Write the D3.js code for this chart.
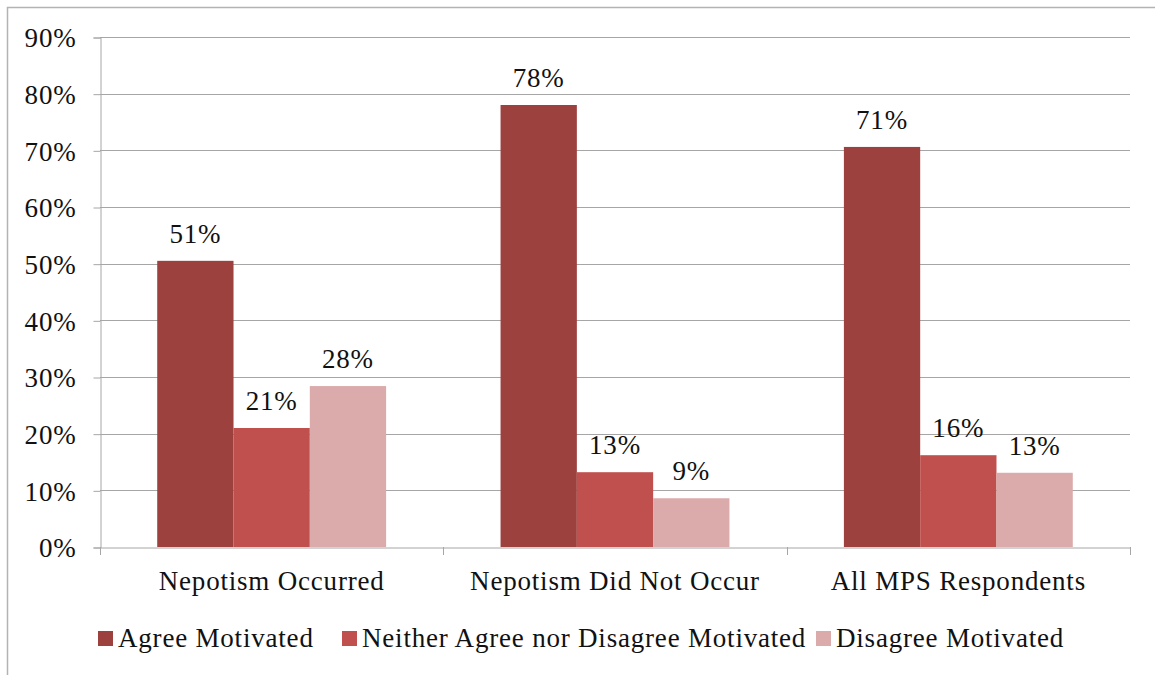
<!DOCTYPE html>
<html lang="en">
<head>
<meta charset="UTF-8">
<title>Motivation by nepotism experience</title>
<script src="https://cdn.jsdelivr.net/npm/d3@7"></script>
<style>
  body { margin: 0; background: #fff; }
  svg text { font-family: "Liberation Serif", "DejaVu Serif", serif; fill: #111; letter-spacing: 0.8px; }
</style>
</head>
<body>
<script>
var categories = ["Nepotism Occurred", "Nepotism Did Not Occur", "All MPS Respondents"];
var seriesNames = ["Agree Motivated", "Neither Agree nor Disagree Motivated", "Disagree Motivated"];
var agree = [50.5, 78, 70.6];
var neither = [21, 13.2, 16.2];
var disagree = [28.4, 8.6, 13.1];
var yTicks = [0, 10, 20, 30, 40, 50, 60, 70, 80, 90];
var colors = ["#9d413f", "#c0504d", "#dbaaaa"];

var w = 1155, h = 675,
    plotLeft = 100, plotRight = 1130, plotTop = 37, plotBottom = 547,
    fontSize = "27px";

var svg = d3.select("body").append("svg")
    .attr("width", w)
    .attr("height", h);

// outer frame (left + top edge of the chart box)
svg.append("path")
    .attr("d", "M7.5," + h + "V7.5H" + w)
    .attr("fill", "none")
    .attr("stroke", "#b3b3b3")
    .attr("stroke-width", 1.5);

var x0 = d3.scaleBand().domain(categories).range([plotLeft, plotRight]);
// gap width 150% -> outer padding of 0.75 bar on each side
var x1 = d3.scaleBand().domain(seriesNames).range([0, x0.bandwidth()]).paddingOuter(0.75);
var y = d3.scaleLinear().domain([0, 90]).range([plotBottom, plotTop]);

// gridlines
svg.append("g")
    .selectAll("line")
    .data(yTicks.slice(1))
    .enter()
    .append("line")
    .attr("x1", plotLeft)
    .attr("x2", plotRight)
    .attr("y1", function(d) { return Math.round(y(d)) + 0.5; })
    .attr("y2", function(d) { return Math.round(y(d)) + 0.5; })
    .attr("stroke", "#a6a6a6")
    .attr("stroke-width", 1);

// bars
var rows = categories.map(function(c, i) {
    return { cat: c, vals: [agree[i], neither[i], disagree[i]] };
});

var groups = svg.selectAll(".grp")
    .data(rows)
    .enter()
    .append("g")
    .attr("class", "grp")
    .attr("transform", function(d) { return "translate(" + x0(d.cat) + ",0)"; });

groups.selectAll("rect")
    .data(function(d) { return d.vals.map(function(v, j) { return { s: seriesNames[j], v: v, j: j }; }); })
    .enter()
    .append("rect")
    .attr("x", function(d) { return x1(d.s); })
    .attr("y", function(d) { return y(d.v); })
    .attr("width", x1.bandwidth())
    .attr("height", function(d) { return plotBottom - y(d.v); })
    .attr("fill", function(d) { return colors[d.j]; });

groups.selectAll(".lbl")
    .data(function(d) { return d.vals.map(function(v, j) { return { s: seriesNames[j], v: v }; }); })
    .enter()
    .append("text")
    .attr("class", "lbl")
    .attr("x", function(d) { return x1(d.s) + x1.bandwidth() / 2; })
    .attr("y", function(d) { return y(d.v) - 18; })
    .attr("text-anchor", "middle")
    .attr("font-size", fontSize)
    .text(function(d) { return Math.round(d.v) + "%"; });

// y axis
var yAxis = svg.append("g")
    .attr("transform", "translate(" + (plotLeft + 0.5) + ",0.5)")
    .call(d3.axisLeft(y).tickValues(yTicks).tickSize(7).tickPadding(17)
        .tickFormat(function(d) { return d + "%"; }));
yAxis.attr("font-family", null);
yAxis.select(".domain").attr("stroke", "#a6a6a6");
yAxis.selectAll(".tick line").attr("stroke", "#a6a6a6");
yAxis.selectAll(".tick text")
    .attr("font-size", fontSize)
    .attr("fill", "#111")
    .attr("dy", "0.34em");

// x axis
var xAxis = svg.append("g")
    .attr("transform", "translate(0," + (plotBottom + 0.5) + ")")
    .call(d3.axisBottom(x0).tickSize(0).tickPadding(23));
xAxis.attr("font-family", null);
xAxis.select(".domain").attr("stroke", "#a6a6a6");
xAxis.selectAll(".tick text")
    .attr("font-size", fontSize)
    .attr("fill", "#111")
    .attr("dy", "0.71em");

// category dividers on the x axis
svg.append("g")
    .selectAll("line")
    .data([plotLeft, x0(categories[1]), x0(categories[2]), plotRight])
    .enter()
    .append("line")
    .attr("x1", function(d) { return Math.round(d) + 0.5; })
    .attr("x2", function(d) { return Math.round(d) + 0.5; })
    .attr("y1", plotBottom)
    .attr("y2", plotBottom + 8)
    .attr("stroke", "#a6a6a6");

// legend
var legendX = [98, 342, 816];
var legend = svg.selectAll(".leg")
    .data(seriesNames)
    .enter()
    .append("g")
    .attr("class", "leg")
    .attr("transform", function(d, i) { return "translate(" + legendX[i] + ",631)"; });

legend.append("rect")
    .attr("width", 15)
    .attr("height", 15)
    .attr("fill", function(d, i) { return colors[i]; });

legend.append("text")
    .attr("x", 20)
    .attr("y", 16)
    .attr("font-size", fontSize)
    .text(function(d) { return d; });
</script>
</body>
</html>
